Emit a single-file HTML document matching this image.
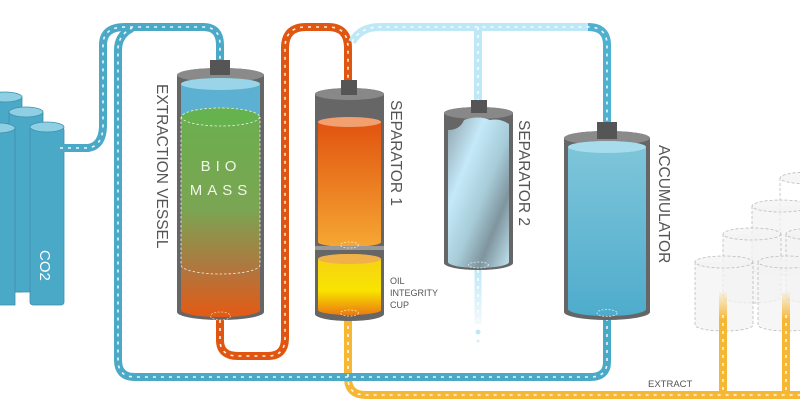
<!DOCTYPE html>
<html><head><meta charset="utf-8"><style>
html,body{margin:0;padding:0;background:#fff;}
svg{display:block;font-family:"Liberation Sans",sans-serif;}
</style></head><body>
<svg width="800" height="417" viewBox="0 0 800 417" xmlns="http://www.w3.org/2000/svg">
<defs>
<linearGradient id="bio" x1="0" y1="0" x2="0" y2="1">
<stop offset="0" stop-color="#66b24e"/><stop offset="0.55" stop-color="#7aa552"/><stop offset="0.8" stop-color="#b0763e"/><stop offset="1" stop-color="#e45a14"/></linearGradient>
<linearGradient id="sep1" x1="0" y1="0" x2="0" y2="1">
<stop offset="0" stop-color="#e0500e"/><stop offset="1" stop-color="#f5a733"/></linearGradient>
<linearGradient id="cup" x1="0" y1="0" x2="0" y2="1">
<stop offset="0" stop-color="#f6d018"/><stop offset="0.6" stop-color="#f8e400"/><stop offset="1" stop-color="#ec7a10"/></linearGradient>
<linearGradient id="acc" x1="0" y1="0" x2="0" y2="1">
<stop offset="0" stop-color="#80c6da"/><stop offset="1" stop-color="#4eaccc"/></linearGradient>
<linearGradient id="sep2" x1="0" y1="0" x2="1" y2="1">
<stop offset="0" stop-color="#8fa3ad"/><stop offset="0.3" stop-color="#c4e9f8"/><stop offset="0.55" stop-color="#a7ccd8"/><stop offset="0.75" stop-color="#7f959e"/><stop offset="1" stop-color="#c0e4f2"/></linearGradient>
<linearGradient id="fadeY" gradientUnits="userSpaceOnUse" x1="0" y1="290" x2="0" y2="320">
<stop offset="0" stop-color="#f7b733" stop-opacity="0"/><stop offset="1" stop-color="#f7b733"/></linearGradient>
<linearGradient id="fadeB" gradientUnits="userSpaceOnUse" x1="0" y1="270" x2="0" y2="325">
<stop offset="0" stop-color="#bfe8f7"/><stop offset="1" stop-color="#bfe8f7" stop-opacity="0.2"/></linearGradient>
</defs>

<!-- CO2 cylinders -->
<g fill="#4aa9c7" stroke="#3e8fab" stroke-width="0.8">
<rect x="-12" y="97" width="34" height="195"/><ellipse cx="5" cy="97" rx="17" ry="5" fill="#8fcfe3"/>
<rect x="9" y="112" width="34" height="180"/><ellipse cx="26" cy="112" rx="17" ry="5" fill="#8fcfe3"/>
<rect x="-19" y="128" width="34" height="177"/><ellipse cx="-2" cy="128" rx="17" ry="5" fill="#8fcfe3"/>
<rect x="30" y="127" width="34" height="178" rx="3"/><ellipse cx="47" cy="127" rx="17" ry="5" fill="#8fcfe3"/>
</g>
<text x="0" y="0" transform="translate(40,250) rotate(90)" fill="#fff" font-size="15">CO2</text>

<!-- ghost cylinders -->
<g fill="#f3f3f3" fill-opacity="0.75" stroke="#bbb" stroke-width="0.8" stroke-dasharray="3,2">
<path d="M780,178 v60 M838,178 v60"/><ellipse cx="809" cy="178" rx="29" ry="6"/>
<path d="M752,206 v63 a29,6 0 0 0 58,0 v-63"/><ellipse cx="781" cy="206" rx="29" ry="6"/>
<path d="M723,234 v63 a29,6 0 0 0 58,0 v-63"/><ellipse cx="752" cy="234" rx="29" ry="6"/>
<path d="M786,234 v63 a29,6 0 0 0 58,0 v-63"/><ellipse cx="815" cy="234" rx="29" ry="6"/>
<path d="M695,262 v63 a29,6 0 0 0 58,0 v-63"/><ellipse cx="724" cy="262" rx="29" ry="6"/>
<path d="M758,262 v63 a29,6 0 0 0 58,0 v-63"/><ellipse cx="787" cy="262" rx="29" ry="6"/>
</g>

<!-- pipes -->
<g fill="none" stroke-linecap="butt">
<path d="M348,318 V378 Q348,395 366,395 H800" stroke="#f7b733" stroke-width="8"/>
<path d="M723,292 V395 M786,292 V395" stroke="url(#fadeY)" stroke-width="8"/>
<path d="M607,318 V362 Q607,377 590,377 H135 Q118,377 118,360 V50 Q118,35 132,28" stroke="#4aa9c7" stroke-width="8"/>
<path d="M60,148 H88 Q103,146 103,125 V45 Q103,27 125,27 H203 Q220,27 220,45 V60" stroke="#4aa9c7" stroke-width="8"/>
<path d="M220,320 V340 Q220,356 238,356 H268 Q285,356 285,338 V48 Q285,27 306,27 H328 Q348,27 348,48 V82" stroke="#e0550f" stroke-width="8"/>
<path d="M352,42 Q360,27 380,27 H588" stroke="#bfe8f7" stroke-width="8"/>
<path d="M588,27 Q607,27 607,45 V124" stroke="#4fb0cf" stroke-width="8"/>
<path d="M478,27 V101" stroke="#bfe8f7" stroke-width="8"/>
<path d="M478,268 V324" stroke="url(#fadeB)" stroke-width="7"/>
<g stroke="#fff" stroke-width="1.6" stroke-dasharray="3,5" opacity="0.9">
<path d="M348,318 V378 Q348,395 366,395 H800"/>
<path d="M723,315 V395 M786,315 V395"/>
<path d="M607,318 V362 Q607,377 590,377 H135 Q118,377 118,360 V50 Q118,35 132,28"/>
<path d="M60,148 H88 Q103,146 103,125 V45 Q103,27 125,27 H203 Q220,27 220,45 V60"/>
<path d="M220,320 V340 Q220,356 238,356 H268 Q285,356 285,338 V48 Q285,27 306,27 H328 Q348,27 348,48 V82"/>
<path d="M352,42 Q360,27 380,27 H588 Q607,27 607,45 V124"/>
<path d="M478,27 V101 M478,270 V322"/>
</g>
</g>
<circle cx="478" cy="332" r="2.5" fill="#bfe8f7"/><circle cx="478" cy="341" r="1.5" fill="#d5effa"/>

<!-- Extraction vessel -->
<path d="M177,75 a43.5,7 0 0 1 87,0 V312 a43.5,8 0 0 1 -87,0 Z" fill="#666"/>
<ellipse cx="220.5" cy="75" rx="43.5" ry="7" fill="#8a8a8a"/>
<rect x="210" y="60" width="20" height="15" fill="#555"/>
<path d="M181,84 a39.5,6 0 0 1 79,0 V310 a39.5,7 0 0 1 -79,0 Z" fill="url(#bio)"/>
<path d="M181,84 a39.5,6 0 0 1 79,0 V115 H181 Z" fill="#5cb0d2"/>
<ellipse cx="220.5" cy="84" rx="39.5" ry="6" fill="#9ad4e8"/>
<ellipse cx="220.5" cy="117" rx="39" ry="9" fill="#66b24e" stroke="#e8f5d8" stroke-width="0.8" stroke-dasharray="2.5,2"/>
<path d="M181,117 V265 a39.5,9 0 0 0 79,0 V117" fill="none" stroke="#e8f5d8" stroke-width="0.8" stroke-dasharray="2.5,2"/>
<ellipse cx="220.5" cy="316" rx="10" ry="4" fill="none" stroke="#f4c9a0" stroke-width="0.8" stroke-dasharray="2,1.5"/>
<text x="221" y="171" text-anchor="middle" fill="#eef7e6" font-size="15" letter-spacing="5">BIO</text>
<text x="221" y="195" text-anchor="middle" fill="#eef7e6" font-size="15" letter-spacing="5">MASS</text>
<text transform="translate(157,84) rotate(90)" fill="#555" font-size="15.5">EXTRACTION VESSEL</text>

<!-- Separator 1 -->
<path d="M315,94 a34.5,6 0 0 1 69,0 V314 a34.5,7 0 0 1 -69,0 Z" fill="#666"/>
<ellipse cx="349.5" cy="94" rx="34.5" ry="6" fill="#888"/>
<rect x="341" y="80" width="16" height="15" fill="#555"/>
<path d="M318,122 a31.5,5 0 0 1 63,0 V242 a31.5,5 0 0 1 -63,0 Z" fill="url(#sep1)"/>
<ellipse cx="349.5" cy="122" rx="31.5" ry="5" fill="#f2a070"/>
<rect x="315" y="246" width="69" height="4" fill="#999"/>
<path d="M318,259 a31.5,5 0 0 1 63,0 V310 a31.5,5 0 0 1 -63,0 Z" fill="url(#cup)"/>
<ellipse cx="349.5" cy="259" rx="31.5" ry="5" fill="#f0b04a"/>
<ellipse cx="349.5" cy="245" rx="9" ry="3" fill="none" stroke="#fde2b0" stroke-width="0.8" stroke-dasharray="2,1.5"/>
<ellipse cx="349.5" cy="313" rx="9" ry="3" fill="none" stroke="#fde2b0" stroke-width="0.8" stroke-dasharray="2,1.5"/>
<text transform="translate(391,100) rotate(90)" fill="#555" font-size="15.5">SEPARATOR 1</text>
<text x="390" y="284" fill="#555" font-size="9">OIL</text>
<text x="390" y="296" fill="#555" font-size="9">INTEGRITY</text>
<text x="390" y="308" fill="#555" font-size="9">CUP</text>

<!-- Separator 2 -->
<path d="M444,113 a34.5,6 0 0 1 69,0 V263 a34.5,7 0 0 1 -69,0 Z" fill="#666"/>
<ellipse cx="478.5" cy="113" rx="34.5" ry="6" fill="#888"/>
<rect x="471" y="100" width="16" height="13" fill="#555"/>
<path d="M448,130 Q460,130 464,120 Q478,115 490,120 Q500,118 509,124 V262 a30.5,6 0 0 1 -61,0 Z" fill="url(#sep2)"/>
<ellipse cx="478.5" cy="265" rx="10" ry="3" fill="none" stroke="#d8eef5" stroke-width="0.8" stroke-dasharray="2,1.5"/>
<text transform="translate(519,120) rotate(90)" fill="#555" font-size="15.5">SEPARATOR 2</text>

<!-- Accumulator -->
<path d="M564,138 a43,7 0 0 1 86,0 V312 a43,8 0 0 1 -86,0 Z" fill="#666"/>
<ellipse cx="607" cy="138" rx="43" ry="7" fill="#8a8a8a"/>
<rect x="597" y="122" width="20" height="17" fill="#555"/>
<path d="M568,147 a39,6 0 0 1 78,0 V309 a39,7 0 0 1 -78,0 Z" fill="url(#acc)"/>
<ellipse cx="607" cy="147" rx="39" ry="6" fill="#a6dcec"/>
<ellipse cx="607" cy="313" rx="10" ry="3.5" fill="none" stroke="#cfe8f0" stroke-width="0.8" stroke-dasharray="2,1.5"/>
<text transform="translate(659,145) rotate(90)" fill="#555" font-size="15.5">ACCUMULATOR</text>

<text x="648" y="387" fill="#555" font-size="9.5">EXTRACT</text>
</svg>
</body></html>
